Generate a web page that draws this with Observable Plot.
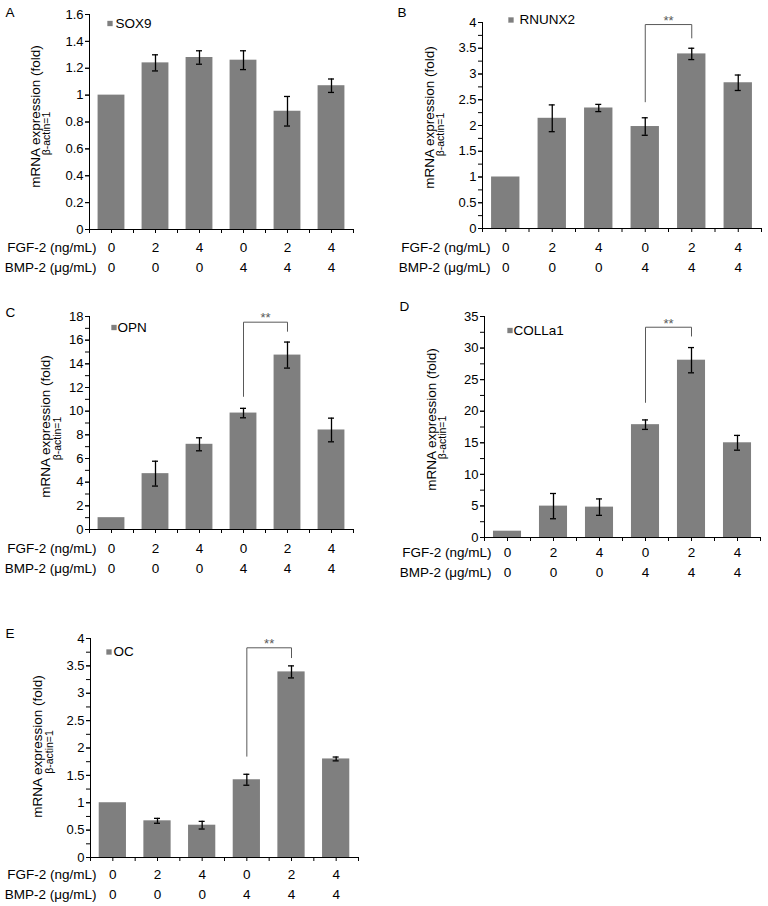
<!DOCTYPE html>
<html><head><meta charset="utf-8">
<script src="https://cdn.jsdelivr.net/npm/d3@7"></script>
<script src="https://cdn.jsdelivr.net/npm/@observablehq/plot@0.6"></script>
<style>
body{margin:0;background:#fff;}
#root{position:relative;width:768px;height:906px;overflow:hidden;background:#fff;}
.panel{position:absolute;}
</style></head><body><div id="root"></div>
<script>
// ---- data ----
const categories = ["0/0","2/0","4/0","0/4","2/4","4/4"]; // FGF-2 / BMP-2
const fgfLabels = ["0","2","4","0","2","4"];
const bmpLabels = ["0","0","0","4","4","4"];
const fgfTitle = "FGF-2 (ng/mL)";
const bmpTitle = "BMP-2 (\u03bcg/mL)";
const yTitle1 = "mRNA expression (fold)";
const yTitle2 = "\u03b2-actin=1";

const sox9 = [1, 1.24, 1.28, 1.26, 0.88, 1.07];
const sox9Err = [0, 0.06, 0.05, 0.07, 0.11, 0.05];
const runx2 = [1, 2.14, 2.34, 1.98, 3.39, 2.83];
const runx2Err = [0, 0.26, 0.07, 0.17, 0.11, 0.15];
const opn = [1, 4.72, 7.2, 9.84, 14.74, 8.41];
const opnErr = [0, 1.05, 0.55, 0.4, 1.1, 1.0];
const colla1 = [1, 4.97, 4.81, 17.87, 28.08, 15.0];
const colla1Err = [0, 2.0, 1.3, 0.75, 2.0, 1.17];
const oc = [1, 0.67, 0.59, 1.42, 3.39, 1.8];
const ocErr = [0, 0.045, 0.07, 0.1, 0.11, 0.035];

const yTicksA = [0, 0.2, 0.4, 0.6, 0.8, 1, 1.2, 1.4, 1.6];
const yTicksB = [0, 0.5, 1, 1.5, 2, 2.5, 3, 3.5, 4];
const yTicksC = [0, 2, 4, 6, 8, 10, 12, 14, 16, 18];
const yTicksD = [0, 5, 10, 15, 20, 25, 30, 35];
const yTicksE = [0, 0.5, 1, 1.5, 2, 2.5, 3, 3.5, 4];

// significance brackets: [left leg bottom, top, right leg bottom, "**" y]
const bracketB = [2.46, 3.96, 3.70, 4.03];
const bracketC = [11.25, 17.52, 16.75, 17.85];
const bracketD = [21.4, 33.3, 31.9, 33.9];
const bracketE = [1.85, 3.83, 3.65, 3.9];

// ---- layout (positions/styles) ----
const layouts = {
  A: {left:0, top:0, w:384, h:290, ml:89, mt:14, mr:31, mb:61, letter:[-84,-2], leg:[20.5,9,26], t1:[-54,-5.5], t2:[-43,11.5], rowDx:7, rows:[18,38], minor:0.2},
  B: {left:384, top:0, w:384, h:290, ml:98, mt:22, mr:7, mb:62, letter:[-85,-10], leg:[28.5,-2.5,37], t1:[-53,-8], t2:[-42,9], rowDx:8, rows:[19,39], minor:0.25},
  C: {left:0, top:290, w:384, h:300, ml:89, mt:26, mr:31, mb:61, letter:[-84,-3.5], leg:[24.5,11,28], t1:[-44,3.5], t2:[-32,15.5], rowDx:7, rows:[19,39], minor:1},
  D: {left:384, top:290, w:384, h:300, ml:100, mt:26, mr:8, mb:53, letter:[-85,-10], leg:[25.5,14,29], t1:[-53,-7.5], t2:[-42,10.5], rowDx:7, rows:[15,35], minor:2.5},
  E: {left:0, top:590, w:384, h:316, ml:90, mt:48, mr:26, mb:49, letter:[-85,-5], leg:[18.5,13.5,23], t1:[-53,-1.5], t2:[-41,4], rowDx:6, rows:[17,37], minor:0.25}
};

const BAR = "#7f7f7f";
const FONT = "'Liberation Sans', Arial, sans-serif";

function panel(letter, name, values, errs, ticks, bracket) {
  const L = layouts[letter];
  const ymax = ticks[ticks.length - 1];
  const rows = categories.map((c, i) => ({c, v: values[i], e: errs[i], fgf: fgfLabels[i], bmp: bmpLabels[i]}));
  const errRows = rows.filter(d => d.e > 0);
  const pw = L.w - L.ml - L.mr;
  const step = pw / categories.length;
  const bw = step * 0.61;
  const capInset = (bw - 6) / 2;
  const nMinor = Math.round(ymax / L.minor);
  const minorTicks = d3.range(0, nMinor + 1).map(i => +(i * L.minor).toFixed(4));
  const last = categories[categories.length - 1];

  const marks = [
    Plot.barY(rows, {x: "c", y: "v", fill: BAR}),
    Plot.ruleX(errRows, {x: "c", y1: d => d.v - d.e, y2: d => d.v + d.e, stroke: "#000", strokeWidth: 1.3}),
    Plot.tickY(errRows, {x: "c", y: d => d.v - d.e, stroke: "#000", strokeWidth: 1.3, insetLeft: capInset, insetRight: capInset}),
    Plot.tickY(errRows, {x: "c", y: d => d.v + d.e, stroke: "#000", strokeWidth: 1.3, insetLeft: capInset, insetRight: capInset}),
    Plot.ruleY([0], {stroke: "#000"}),
    Plot.ruleX([categories[0]], {x: d => d, y1: 0, y2: ymax, dx: -step / 2, stroke: "#000"}),
    Plot.ruleX(categories, {x: d => d, y1: 0, y2: 0, insetBottom: -4, stroke: "#000"}),
    Plot.ruleX(categories, {x: d => d, y1: 0, y2: 0, insetBottom: -4, dx: -step / 2, stroke: "#000"}),
    Plot.ruleX([last], {x: d => d, y1: 0, y2: 0, insetBottom: -4, dx: step / 2, stroke: "#000"}),
    Plot.axisY({ticks: minorTicks, tickSize: 4, tickFormat: () => "", label: null, stroke: "#000"}),
    Plot.axisY({ticks, tickSize: 4, tickPadding: 2, tickFormat: d => String(d), label: null, stroke: "#000", fill: "#000"}),
    Plot.text([yTitle1], {text: d => d, frameAnchor: "left", textAnchor: "middle", lineAnchor: "middle", rotate: -90, dx: L.t1[0], dy: L.t1[1], fontSize: 13.5, fill: "#000"}),
    Plot.text([yTitle2], {text: d => d, frameAnchor: "left", textAnchor: "middle", lineAnchor: "middle", rotate: -90, dx: L.t2[0], dy: L.t2[1], fontSize: 10.5, fill: "#000"}),
    Plot.text([fgfTitle], {text: d => d, frameAnchor: "bottom-left", textAnchor: "end", lineAnchor: "middle", dx: L.rowDx, dy: L.rows[0], fontSize: 13.5, fill: "#000"}),
    Plot.text([bmpTitle], {text: d => d, frameAnchor: "bottom-left", textAnchor: "end", lineAnchor: "middle", dx: L.rowDx, dy: L.rows[1], fontSize: 13.5, fill: "#000"}),
    Plot.text(rows, {x: "c", text: "fgf", frameAnchor: "bottom", lineAnchor: "middle", dy: L.rows[0], fontSize: 13.5, fill: "#000"}),
    Plot.text(rows, {x: "c", text: "bmp", frameAnchor: "bottom", lineAnchor: "middle", dy: L.rows[1], fontSize: 13.5, fill: "#000"}),
    Plot.text([letter], {text: d => d, frameAnchor: "top-left", textAnchor: "start", lineAnchor: "middle", dx: L.letter[0], dy: L.letter[1], fontSize: 13.5, fill: "#000"}),
    Plot.dot([name], {frameAnchor: "top-left", symbol: "square", r: 3, fill: BAR, stroke: null, dx: L.leg[0], dy: L.leg[1]}),
    Plot.text([name], {text: d => d, frameAnchor: "top-left", textAnchor: "start", lineAnchor: "middle", dx: L.leg[2], dy: L.leg[1], fontSize: 13.5, fill: "#000"})
  ];

  if (bracket) {
    const pts = [
      {c: categories[3], y: bracket[0]},
      {c: categories[3], y: bracket[1]},
      {c: categories[4], y: bracket[1]},
      {c: categories[4], y: bracket[2]}
    ];
    marks.push(Plot.line(pts, {x: "c", y: "y", stroke: "#595959", strokeWidth: 1}));
    marks.push(Plot.text([{c: categories[3], y: bracket[3]}], {x: "c", y: "y", text: () => "**", dx: step / 2, fill: "#595959", fontSize: 13, lineAnchor: "middle"}));
  }

  const svg = Plot.plot({
    width: L.w, height: L.h,
    marginLeft: L.ml, marginTop: L.mt, marginRight: L.mr, marginBottom: L.mb,
    x: {domain: categories, paddingInner: 0.39, paddingOuter: 0.195, round: false, axis: null, label: null},
    y: {domain: [0, ymax], label: null},
    style: {fontFamily: FONT, fontSize: "13px", color: "#000", background: "transparent", overflow: "visible"},
    marks
  });
  const div = document.createElement("div");
  div.className = "panel";
  div.style.left = L.left + "px";
  div.style.top = L.top + "px";
  div.appendChild(svg);
  document.getElementById("root").appendChild(div);
}

panel("A", "SOX9", sox9, sox9Err, yTicksA, null);
panel("B", "RNUNX2", runx2, runx2Err, yTicksB, bracketB);
panel("C", "OPN", opn, opnErr, yTicksC, bracketC);
panel("D", "COLLa1", colla1, colla1Err, yTicksD, bracketD);
panel("E", "OC", oc, ocErr, yTicksE, bracketE);
</script>
</body></html>
